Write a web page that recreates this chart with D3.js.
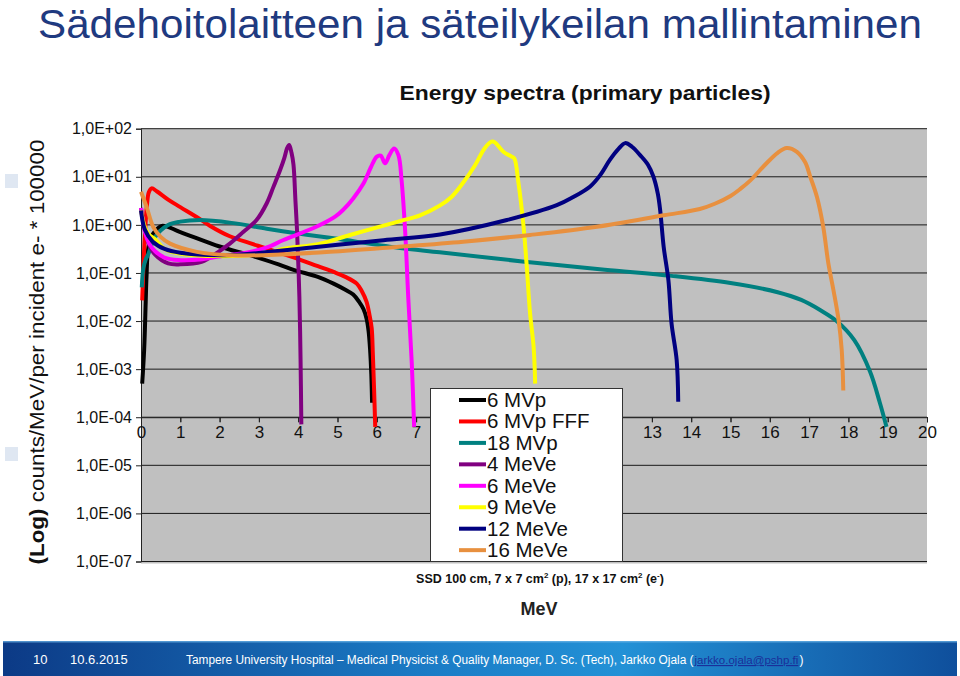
<!DOCTYPE html>
<html><head><meta charset="utf-8">
<script src="https://cdn.jsdelivr.net/npm/d3@7"></script>
<style>
html,body{margin:0;padding:0;background:#fff;}
svg{display:block;font-family:"Liberation Sans",Arial,sans-serif;}
</style></head>
<body><svg id="c" width="960" height="676"></svg>
<script>
// ---------- data ----------
const seriesNames = ["6 MVp","6 MVp FFF","18 MVp","4 MeVe","6 MeVe","9 MeVe","12 MeVe","16 MeVe"];
const seriesColors = ["#000000","#ff0000","#008080","#800080","#ff00ff","#ffff00","#000080","#e8903f"];

const mvp6E = [0.03,0.08,0.12,0.14,0.19,0.31,0.53,1.0,2.0,2.77,3.5,3.9,4.5,4.9,5.2,5.4,5.55,5.66,5.74,5.79,5.83,5.86,5.88];
const mvp6V = [5.0e-4,2.5e-3,2.5e-2,8.3e-2,0.347,0.66,0.955,0.708,0.355,0.234,0.151,0.115,0.083,0.060,0.0447,0.0355,0.0251,0.0178,0.0112,6.3e-3,2.5e-3,7.9e-4,2.0e-4];

const fffE = [0.03,0.06,0.1,0.15,0.2,0.27,0.4,0.7,1.0,1.5,1.76,2.26,2.77,3.11,3.9,4.5,4.9,5.2,5.49,5.62,5.74,5.82,5.87,5.9,5.93,5.96];
const fffV = [0.027,0.126,0.63,2.51,4.79,5.75,5.01,3.31,2.34,1.32,0.95,0.58,0.417,0.339,0.209,0.138,0.105,0.083,0.060,0.0417,0.0251,0.0126,7.1e-3,2.0e-3,4.0e-4,6.3e-5];

const mvp18E = [0.02,0.06,0.12,0.19,0.36,0.69,1.0,1.5,2.3,3.2,4.0,4.9,6.5,7.6,9.7,11.8,13.5,15.0,16.2,16.8,17.3,17.7,18.15,18.55,18.8,18.97];
const mvp18V = [0.050,0.126,0.191,0.251,0.562,1.0,1.17,1.26,1.10,0.832,0.661,0.525,0.339,0.269,0.174,0.117,0.087,0.0617,0.0398,0.0275,0.0166,0.010,4.0e-3,8.9e-4,2.0e-4,6.3e-5];

const mev4E = [0.0,0.1,0.2,0.36,0.69,1.0,1.54,1.97,2.26,2.6,2.94,3.2,3.37,3.54,3.65,3.72,3.77,3.83,3.88,3.93,3.97,4.03,4.06,4.08];
const mev4V = [2.24,0.794,0.398,0.240,0.158,0.151,0.170,0.275,0.407,0.708,1.26,2.82,6.17,13.8,25.1,39.8,45.7,31.6,17.8,3.16,0.776,0.0316,1.58e-3,7.1e-5];

const mev6E = [0.0,0.1,0.2,0.36,0.6,0.95,1.5,1.97,2.77,3.24,3.61,4.46,4.94,5.14,5.4,5.66,5.85,6.0,6.1,6.21,6.32,6.44,6.55,6.63,6.72,6.8,6.89,6.95];
const mev6V = [2.24,0.708,0.417,0.282,0.209,0.186,0.191,0.219,0.275,0.347,0.479,0.912,1.48,2.04,3.55,7.24,15.8,26.3,27.5,19.1,28.2,38.9,28.2,8.51,0.776,0.0316,1.32e-3,6.3e-5];

const mev9E = [0.0,0.1,0.2,0.36,0.6,0.95,1.97,3.24,3.61,4.5,5.32,6.59,7.1,7.6,7.9,8.2,8.5,8.75,8.92,9.0,9.22,9.43,9.5,9.6,9.73,9.81,9.9,9.99,10.03];
const mev9V = [2.0,0.891,0.631,0.501,0.316,0.257,0.224,0.257,0.316,0.398,0.617,1.20,1.58,2.51,3.80,7.59,17.4,39.8,53.7,52.5,33.1,26.3,24.0,7.94,1.0,0.158,0.0145,2.9e-3,5.0e-4];

const mev12E = [0.0,0.1,0.3,0.6,1.0,2.0,2.77,4.46,6.17,7.61,9.31,10.58,11.0,11.43,11.68,11.93,12.15,12.32,12.5,12.7,12.9,13.04,13.15,13.21,13.3,13.42,13.5,13.63,13.67];
const mev12V = [2.0,0.794,0.447,0.316,0.263,0.234,0.251,0.347,0.479,0.631,1.26,2.57,3.80,6.31,10.7,22.4,38.0,50.1,41.7,28.2,17.8,10.0,4.47,2.04,0.347,0.0708,8.9e-3,1.55e-3,2.1e-4];

const mev16E = [0.0,0.14,0.31,0.5,0.74,1.42,2.27,3.11,4.81,6.5,8.2,9.9,11.6,13.3,14.22,14.6,15.0,15.25,15.5,15.88,16.2,16.43,16.69,16.9,17.03,17.2,17.36,17.49,17.62,17.75,17.83,17.87];
const mev16V = [4.9,2.4,0.912,0.562,0.407,0.275,0.234,0.234,0.275,0.347,0.447,0.617,0.912,1.58,2.14,2.75,4.0,5.6,8.32,17.8,31.6,39.8,33.1,20.0,10.0,3.8,0.912,0.158,0.0437,0.0105,2.5e-3,3.6e-4];

const xTicks = [0,1,2,3,4,5,6,7,8,9,10,11,12,13,14,15,16,17,18,19,20];
const xTicksShown = [0,1,2,3,4,5,6,7,13,14,15,16,17,18,19,20]; // 8–12 lie behind the legend
const yTicks = [1e2,1e1,1e0,1e-1,1e-2,1e-3,1e-4,1e-5,1e-6,1e-7];
const yTickLabels = ["1,0E+02","1,0E+01","1,0E+00","1,0E-01","1,0E-02","1,0E-03","1,0E-04","1,0E-05","1,0E-06","1,0E-07"];

const seriesE = [mvp6E,fffE,mvp18E,mev4E,mev6E,mev9E,mev12E,mev16E];
const seriesV = [mvp6V,fffV,mvp18V,mev4V,mev6V,mev9V,mev12V,mev16V];

// ---------- drawing ----------
const svg = d3.select("#c");
const L = 141, R = 927, T = 128.7, B = 561.5;
const x = d3.scaleLinear().domain([0,20]).range([L,R]);
const y = d3.scaleLog().domain([1e-7,1e2]).range([B,T]);

// slide title
svg.append("text").attr("x",38).attr("y",38).attr("font-size",41).attr("fill","#1f3a80")
  .attr("textLength",884).attr("lengthAdjust","spacingAndGlyphs")
  .text("Sädehoitolaitteen ja säteilykeilan mallintaminen");

// decorative squares
svg.append("rect").attr("x",5).attr("y",174).attr("width",13).attr("height",14).attr("fill","#dfe7f2");
svg.append("rect").attr("x",5).attr("y",447).attr("width",13).attr("height",14).attr("fill","#dfe7f2");

// chart title
svg.append("text").attr("x",585).attr("y",100).attr("text-anchor","middle").attr("font-size",21)
  .attr("font-weight","bold").attr("fill","#111").attr("textLength",371).attr("lengthAdjust","spacingAndGlyphs")
  .text("Energy spectra (primary particles)");

// plot background
svg.append("rect").attr("x",L).attr("y",T).attr("width",R-L).attr("height",B-T+2).attr("fill","#c0c0c0");

// gridlines
svg.append("g").selectAll("line").data(yTicks).join("line")
  .attr("x1",L).attr("x2",R).attr("y1",d=>y(d)).attr("y2",d=>y(d))
  .attr("stroke","#1a1a1a").attr("stroke-width",1);

// y axis
const yAxis = svg.append("g").attr("transform",`translate(${L},0)`)
  .call(d3.axisLeft(y).tickValues(yTicks).tickFormat((d,i)=>yTickLabels[i]).tickSize(5).tickPadding(4));
yAxis.select(".domain").attr("stroke","#222");
yAxis.selectAll(".tick line").attr("stroke","#222");
yAxis.selectAll("text").attr("font-size",16).attr("fill","#111").attr("font-family","Liberation Sans, Arial, sans-serif");

// x axis at 1e-4 (tick marks for all, labels only where visible)
const xAxisY = y(1e-4);
const xAxis = svg.append("g").attr("transform",`translate(0,${xAxisY})`)
  .call(d3.axisBottom(x).tickValues(xTicks).tickFormat("").tickSize(5));
xAxis.select(".domain").attr("stroke","#222");
xAxis.selectAll(".tick line").attr("stroke","#222");
const xLab = svg.append("g").attr("transform",`translate(0,${xAxisY})`)
  .call(d3.axisBottom(x).tickValues(xTicksShown).tickFormat(d3.format("d")).tickSize(5).tickPadding(4));
xLab.select(".domain").remove();
xLab.selectAll(".tick line").attr("stroke","#222");
xLab.selectAll("text").attr("font-size",17).attr("fill","#111").attr("font-family","Liberation Sans, Arial, sans-serif");

// lines
const line = d3.line().x(d=>x(d[0])).y(d=>y(d[1])).curve(d3.curveCatmullRom.alpha(0.5));
const lg = svg.append("g");
seriesNames.forEach((n,i)=>{
  const pts = seriesE[i].map((e,j)=>[e,seriesV[i][j]]);
  lg.append("path").attr("d",line(pts)).attr("fill","none")
    .attr("stroke",seriesColors[i]).attr("stroke-width",4).attr("stroke-linejoin","round");
});

// legend
const leg = svg.append("g");
leg.append("rect").attr("x",430.5).attr("y",388.5).attr("width",192).attr("height",173)
  .attr("fill","#fff").attr("stroke","#333").attr("stroke-width",1);
seriesNames.forEach((n,i)=>{
  const cy = 400 + i*21.45;
  leg.append("line").attr("x1",459).attr("x2",486).attr("y1",cy).attr("y2",cy)
    .attr("stroke",seriesColors[i]).attr("stroke-width",4);
  leg.append("text").attr("x",487).attr("y",cy+7).attr("font-size",20.5).attr("fill","#111").text(n);
});

// y axis title
const yt = svg.append("text").attr("transform","translate(44,352) rotate(-90)")
  .attr("text-anchor","middle").attr("font-size",20.5).attr("fill","#111")
  .attr("textLength",425).attr("lengthAdjust","spacingAndGlyphs");
yt.append("tspan").attr("font-weight","bold").text("(Log)");
yt.append("tspan").text(" counts/MeV/per incident e- * 100000");

// subtitle
const st = svg.append("text").attr("x",540).attr("y",583).attr("text-anchor","middle")
  .attr("font-size",12.5).attr("font-weight","bold").attr("fill","#111");
st.append("tspan").text("SSD 100 cm, 7 x 7 cm");
st.append("tspan").attr("font-size",8).attr("dy",-5).text("2");
st.append("tspan").attr("dy",5).text(" (p), 17 x 17 cm");
st.append("tspan").attr("font-size",8).attr("dy",-5).text("2");
st.append("tspan").attr("dy",5).text(" (e");
st.append("tspan").attr("font-size",8).attr("dy",-5).text("-");
st.append("tspan").attr("dy",5).text(")");

svg.append("text").attr("x",539).attr("y",615).attr("text-anchor","middle").attr("font-size",18)
  .attr("font-weight","bold").attr("fill","#222").text("MeV");

// footer
const defs = svg.append("defs");
const gr = defs.append("linearGradient").attr("id","fg").attr("x1","0%").attr("x2","100%");
gr.append("stop").attr("offset","0%").attr("stop-color","#0c3a86");
gr.append("stop").attr("offset","45%").attr("stop-color","#1b7cc6");
gr.append("stop").attr("offset","65%").attr("stop-color","#2391d6");
gr.append("stop").attr("offset","100%").attr("stop-color","#0f4f9c");
svg.append("rect").attr("x",3).attr("y",641).attr("width",954).attr("height",35).attr("fill","url(#fg)");
svg.append("rect").attr("x",3).attr("y",641).attr("width",954).attr("height",1.5).attr("fill","#6fb6e8").attr("opacity",0.7);
const ft = svg.append("g").attr("fill","#fff");
ft.append("text").attr("x",33).attr("y",664).attr("font-size",13).text("10");
ft.append("text").attr("x",70).attr("y",664).attr("font-size",13).text("10.6.2015");
function fitText(sel, target){
  const w = sel.node().getComputedTextLength();
  sel.attr("font-size", 13 * target / w);
  return sel.node().getComputedTextLength();
}
const f1 = ft.append("text").attr("x",186).attr("y",664).attr("font-size",13)
  .text("Tampere University Hospital – Medical Physicist  & Quality Manager, D. Sc. (Tech), Jarkko Ojala (");
const w1 = fitText(f1, 508);
const f2 = ft.append("text").attr("x",186 + w1 + 1).attr("y",664).attr("font-size",13)
  .attr("fill","#1a2f9a").attr("text-decoration","underline").text("jarkko.ojala@pshp.fi");
const w2 = fitText(f2, 104);
ft.append("text").attr("x",186 + w1 + 1 + w2 + 1).attr("y",664).attr("font-size",12).text(")");
</script></body></html>
